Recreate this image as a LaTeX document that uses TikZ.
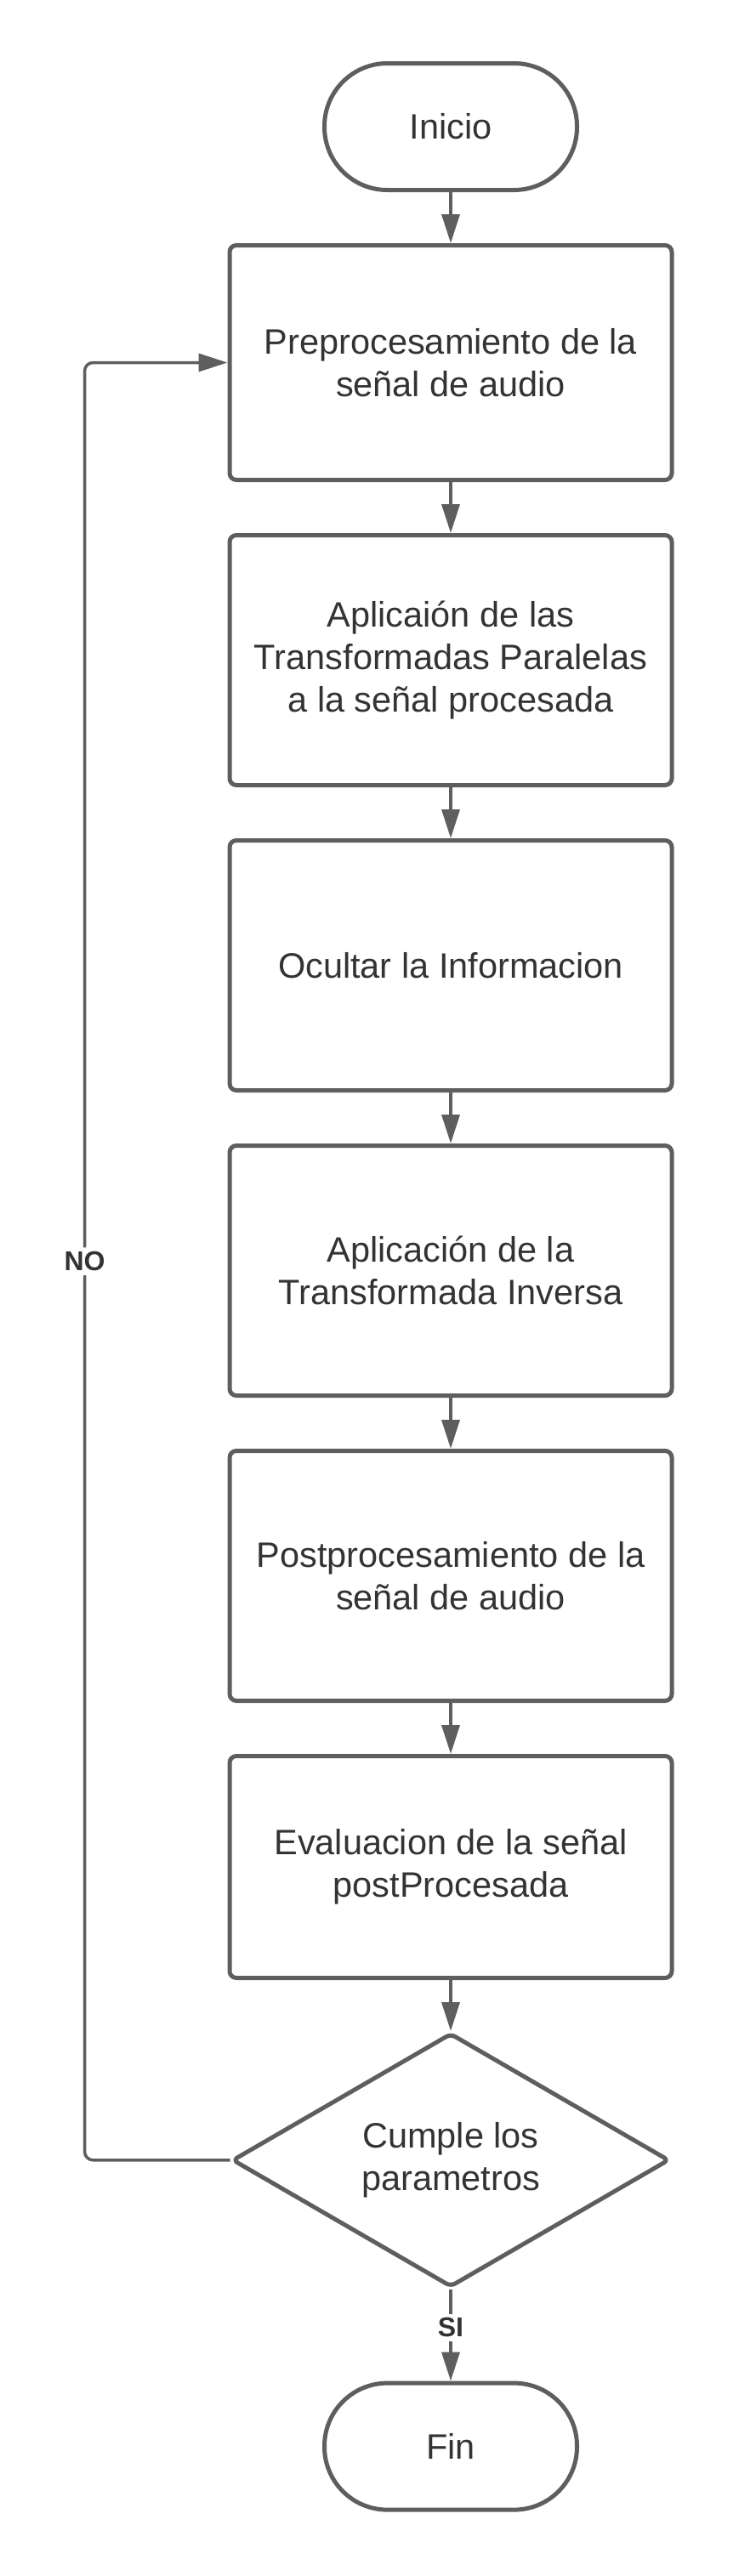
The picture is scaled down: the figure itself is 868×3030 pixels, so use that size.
\documentclass[tikz,border=0pt]{standalone}
\usepackage{fontspec}
\setmainfont{Liberation Sans}
\usetikzlibrary{arrows.meta,shapes.geometric,positioning}
\definecolor{linegray}{HTML}{5E5E5E}
\definecolor{textgray}{HTML}{333333}

\begin{document}
\begin{tikzpicture}[x=1pt,y=1pt,node distance=60pt,
        font=\fontsize{41.5}{50}\selectfont,text=textgray,
        >={Triangle[length=34pt,width=21pt]},
        terminal/.style={draw=linegray,line width=5pt,rounded corners=74pt,minimum width=297pt,minimum height=149pt},
        box/.style={draw=linegray,line width=5pt,rounded corners=8pt,minimum width=520pt,minimum height=294pt,align=center},
        decision/.style={diamond,draw=linegray,line width=5pt,rounded corners=6pt,minimum width=514pt,minimum height=296pt,inner sep=0pt,align=center},
        flow/.style={->,draw=linegray,line width=3.5pt},
        tag/.style={font=\fontsize{32}{36}\selectfont\bfseries,fill=white,inner sep=5pt}]
        \useasboundingbox (0,0) rectangle (868,-3030);
        \node[terminal] (start) at (530,-149) {Inicio};
        \node[box,minimum height=276pt] (pre) [below=of start] {Preprocesamiento de la\\se\~nal de audio};
        \node[box] (par) [below=of pre] {Aplicai\'on de las\\Transformadas Paralelas\\a la se\~nal procesada};
        \node[box] (hide) [below=of par] {Ocultar la Informacion};
        \node[box] (inv) [below=of hide] {Aplicaci\'on de la\\Transformada Inversa};
        \node[box] (post) [below=of inv] {Postprocesamiento de la\\se\~nal de audio};
        \node[box,minimum height=261pt] (eval) [below=of post] {Evaluacion de la se\~nal\\postProcesada};
        \node[decision] (dec) [below=of eval] {Cumple los\\parametros};
        \node[terminal] (end) [below=108pt of dec] {Fin};
        \coordinate[left=171pt of dec.west] (back); % <= corner of the loop

        \draw[flow] (start) -- (pre);
        \foreach \a/\b in {pre/par,par/hide,hide/inv,inv/post,post/eval,eval/dec}
            \draw[flow] (\a) -- (\b);
        \draw[flow] (dec) -- node[tag,pos=0.42] {SI} (end);
        \draw[flow,rounded corners=10pt] (dec.west) -- (back) |- node[tag,pos=0.25] {NO} (pre.west);
    \end{tikzpicture}
\end{document}
